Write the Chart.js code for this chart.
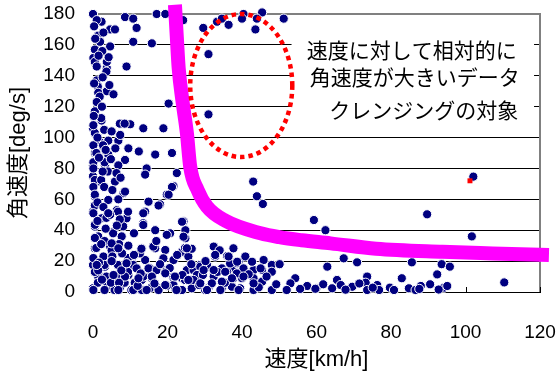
<!DOCTYPE html>
<html>
<head>
<meta charset="utf-8">
<script src="https://cdn.jsdelivr.net/npm/chart.js@4"></script>
<style>
  html, body { margin: 0; padding: 0; background: #fff; }
  canvas { display: block; }
</style>
</head>
<body>
<canvas id="c" width="558" height="374"></canvas>
<script>
// Measured samples: vehicle speed [km/h] and angular velocity [deg/s]
const speedKmh = [
  0,2.3,8.6,10.8,11.7,17.1,19.4,24.2,29.6,33.3,34.6,36.4,40.4,45.4,40,44,51.2,43.6,
  4.6,5.9,1.4,1.9,4.6,10.8,15.8,31,0.5,0.1,0.5,9,1,3.7,3.7,3.6,1,1.3,3.7,5.5,1.4,1.8,1,20.3,31,0.5,2.3,7.7,10,13.5,18.9,0,0.5,1.9,4.1,6.8,7.3,2.8,9.5,12.3,
  0.5,4.1,8.6,16.7,21.2,0,3.2,6.8,14.4,14,22.5,0,1.9,5.9,21.6,8.2,19.8,0.5,4.1,14.9,18,0,2.3,6.4,9,14,13.5,24.3,0.5,5.5,16.7,20.7,24.8,1.4,7.7,24.8,
  0.5,4.6,13.1,16.7,19.4,23.9,32.4,37.7,2.8,10.4,14,18.9,21.6,25.6,32.8,36,0,3.2,8.6,11.7,15.3,19.4,27,28.8,31,34.6,37.3,1.4,5.9,9.5,13.1,15.8,21.6,24.8,27.4,32.4,
  0,3.7,7.3,11.3,15.3,17.6,22,26.5,31,34.6,37.3,
  0.1,3.1,0.1,4,6.3,0.5,2.2,0.1,8.6,0.5,0.5,6.7,9.4,0.1,3.6,0.5,8.1,5.4,0.5,3.1,0.9,5,12.6,0.1,9.4,3.1,6.7,10.8,0.5,9.4,3.6,6.7,1.3,8.5,11.2,0.1,3.1,5.8,10.3,13.1,
  0.1,2.7,0.9,0.1,2.2,7.2,8.5,
  17.6,21.2,20.3,13.5,23.9,24.7,13,16.2,9,11.7,14.9,17.1,19.4,25.2,8.6,13.5,15.8,21.6,23.9,10.8,14.4,17.6,21.6,23.9,
  27,28.8,27.9,30.6,39.1,40.9,43.1,45.8,48,36,37.7,31.9,30.1,39.5,43.1,48,40,24.7,27,
  59.3,62.4,50.1,62.9,67.3,70.9,54.3,65.5,73.6,73.2,53,57.5,60,64.2,66.5,69.6,73.6,76.3,76.8,79.7,82.9,84.8,85.6,86.6,88,89.7,90.5,92.4,93.6,94.2,95.1,95.8,101.7,102.1,110.4,
  43,44,45.6,38.7,40.4,45.4,48,43.1,45.4,52,59.7,
  1.0,0.3,2.8,0.6,2.5,1.5,4.2,2.6,0.3,4.4,2.4,0.2,3.0,5.0,1.2,3.4,6.0,1.6,4.8,2.6,7.4,3.0,5.2,1.2,6.8,2.8,4.6,7.2,1.2,3.4,6.4,2.2,7.0,5.2,7.8,1.6,5.0,7.6,2.4,4.8,7.0,1.4,
  12.0,16.5,19.8,20.6,24.0,26.4,28.5,29.5,33.4,35.4,36.8,38.6,41.8,44.5,46.6,49.2,11.0,12.8,18.0,22.6,26.5,30.2,34.0,9.5,17.0,11.0,55.6,61.8,67.8,71.5,75.1,80.8,87.6,92.8,
  4.1,24.3,25.2,5,6.8,9,19.4,22,25.6,29.7,32.8,36.4,38.7,42.7,45,32.4,35.5,37.3,40.4,6.8,22.4,1,5.5,12.2,19.4,28.8,34.6,43.1,39.1,34.2,30.6,19.8,13.5
];
const angularVel = [
  180,175,178,177,171,180,180,176,171,175,177,173,180,181,177,177,177,170,
  170,170,166,162,159,162,161,154,157,151.5,149,146,146,145,149,142.7,137,133,130,128,129,126.5,123,122,115,117,111,109,108.6,106,106,106,103,97,98,98,101.7,94,93,91,
  90,89,85.5,89,90,82,82,82,80,76,77,75,71.5,71.5,68.6,64,63,62,59.6,58.5,56.8,52,47.7,53,47.7,52,44.5,45.7,42.4,39,40,38,40,36,36,34.8,
  28.3,29.4,28.3,28.3,27.2,26,29.4,28.3,23,21.8,20.7,21.8,20.7,23,23,23.3,17.5,16.4,17.5,15.3,15.3,14.2,14.2,17.5,16.4,15.3,14.2,10,10,11,7.8,8.9,8.9,7.8,8.9,10,
  2.4,3.4,3,2.4,2.4,2.4,2.4,2.4,2.4,2.4,3.4,
  84,84,80,78,77,72.5,72.5,68,65,63,56,52,52,51,48,43.5,42.5,38,35,33,28.5,27,25,22,22,17.5,17.5,17.5,13,13,10,10,6,6,6,1.3,1.3,1.3,1.3,1.3,
  95,95,90,108,112.6,109,109,
  56,68,63,51,45.5,28.5,28,29.4,18.6,15.3,15.3,14.2,13.1,14.2,10,10,10,10,8.9,1.3,1.3,1.3,4.5,1.3,
  14.2,16.4,11,17.5,19.6,23,14.2,20.7,17.5,13.1,8.9,5.6,1.3,2.4,1.3,1.3,8.9,7.8,7.8,
  46.6,40,18,16.4,21.8,19.2,8.9,7.8,10,6,5.6,3.9,2.4,2.4,4.5,3.4,1.3,4.5,1.3,2.8,8.9,2.4,19.2,1.3,3.9,50.3,5,11.4,18,2.8,3.9,16.4,36,74.7,6.2,
  71.5,62,57,18.6,15.3,14.2,13.1,8.9,6.7,1.3,2.1,
  176,172,168,164,156,153,152,139,135,134,120,114,105,104,100,92,93,87,86,78,74,68,66,58,60,55,50,47,46,41,43,31,31,23,25,19,20,14,8,6,6,14,
  4,5.5,4,15.5,11,18,4.5,11,13,6,18.5,12,11.5,3,10,5,24,12,18,24,28,20,27,30,33,38,2,5,1.5,5.5,2.8,1.3,2,1.6,
  51,35.8,28.3,31.5,28.3,18.6,12.1,10,7.8,14.2,24,23,19.6,19.6,15.3,14.2,13.1,8.9,10,1.3,1.3,17.5,11,8.9,4.5,5.6,6.7,5.6,1.3,1.3,1.3,37,43.4
];

// Threshold curve separating plausible turning rates from outliers
const thresholdSpeed  = [22.0, 22.5, 23.0, 24.0, 25.2, 26.1, 28.1, 30.6, 35.5, 45.0, 50.0, 56.0, 63.8, 76.0, 93.8, 107.3, 122.4];
const thresholdAngVel = [186, 165, 145, 124, 103, 81, 66, 55.3, 46.2, 38, 35.5, 33.5, 31.5, 28, 26, 25, 24];

// Single sample flagged in red
const flaggedSpeed  = [101.2];
const flaggedAngVel = [72];

const xTicks = [0, 20, 40, 60, 80, 100, 120];
const yTicks = [0, 20, 40, 60, 80, 100, 120, 140, 160, 180];

const noteLines = ['速度に対して相対的に', '角速度が大きいデータ', 'クレンジングの対象'];

const toPoints = (xs, ys) => xs.map((x, i) => ({ x, y: ys[i] }));

const FONT = "'Liberation Sans', 'Noto Sans CJK JP', sans-serif";

// Callout box, dotted outlier region and inner tick marks
const decorations = {
  id: 'decorations',
  beforeDatasetsDraw(chart) {
    const { ctx, chartArea: a, scales: { x, y } } = chart;
    ctx.save();
    // plot frame on the right
    ctx.strokeStyle = '#808080';
    ctx.lineWidth = 2;
    ctx.beginPath();
    ctx.moveTo(a.right, a.top - 1);
    ctx.lineTo(a.right, a.bottom);
    ctx.stroke();
    // inner tick marks on the speed axis
    ctx.strokeStyle = '#000';
    ctx.lineWidth = 1;
    xTicks.forEach(v => {
      const px = Math.round(x.getPixelForValue(v)) + 0.5;
      ctx.beginPath();
      ctx.moveTo(px, a.bottom);
      ctx.lineTo(px, a.bottom - 5);
      ctx.stroke();
    });
    // white callout box with note text
    const bx0 = x.getPixelForValue(53.3), bx1 = x.getPixelForValue(118.4);
    const by0 = y.getPixelForValue(171), by1 = y.getPixelForValue(106);
    ctx.fillStyle = '#fff';
    ctx.fillRect(bx0, by0, bx1 - bx0, by1 - by0);
    ctx.fillStyle = '#000';
    ctx.font = "21px 'Noto Sans CJK JP', sans-serif";
    ctx.textAlign = 'center';
    ctx.textBaseline = 'middle';
    const notePos = [[85.6, 156.7], [86.4, 139], [88.8, 117.6]];
    noteLines.forEach((t, i) => {
      ctx.fillText(t, x.getPixelForValue(notePos[i][0]), y.getPixelForValue(notePos[i][1]));
    });
    ctx.restore();
  },
  afterDatasetsDraw(chart) {
    const { ctx, scales: { x, y } } = chart;
    const cx = x.getPixelForValue(39.8), cy = y.getPixelForValue(133.7);
    const rx = x.getPixelForValue(39.8 + 13.7) - cx;
    const ry = cy - y.getPixelForValue(133.7 + 46.3);
    ctx.save();
    ctx.strokeStyle = '#FF0000';
    ctx.lineWidth = 4.5;
    ctx.setLineDash([4.5, 4]);
    ctx.beginPath();
    ctx.ellipse(cx, cy, rx, ry, 0, 0, Math.PI * 2);
    ctx.stroke();
    ctx.restore();
  }
};

new Chart(document.getElementById('c'), {
  type: 'scatter',
  data: {
    datasets: [
      {
        label: 'flagged',
        data: toPoints(flaggedSpeed, flaggedAngVel),
        pointStyle: 'rect',
        pointRadius: 3.5,
        backgroundColor: '#FF0000',
        borderWidth: 0,
        clip: false
      },
      {
        label: 'threshold',
        type: 'line',
        data: toPoints(thresholdSpeed, thresholdAngVel),
        borderColor: '#FF00FF',
        borderWidth: 14,
        pointRadius: 0,
        fill: false,
        cubicInterpolationMode: 'monotone',
        clip: false
      },
      {
        label: 'samples',
        data: toPoints(speedKmh, angularVel),
        pointRadius: 4.6,
        borderWidth: 1,
        borderColor: '#FFFFFF',
        backgroundColor: '#000080',
        clip: false
      }
    ]
  },
  options: {
    responsive: false,
    animation: false,
    devicePixelRatio: 1,
    events: [],
    layout: { padding: { top: 14, right: 18, left: 0, bottom: 0 } },
    plugins: { legend: { display: false }, tooltip: { enabled: false } },
    scales: {
      x: {
        type: 'linear',
        min: 0, max: 120,
        afterFit(s) { s.height = 82; s.paddingLeft = 0; s.paddingRight = 0; },
        afterBuildTicks(s) { s.ticks = xTicks.map(v => ({ value: v })); },
        ticks: { color: '#000', padding: 21, font: { family: FONT, size: 19 } },
        grid: { display: false },
        border: { display: true, color: '#000', width: 1 },
        title: {
          display: true, text: '速度[km/h]', color: '#000',
          font: { family: FONT, size: 22 }, padding: { top: 0, bottom: 1 }
        }
      },
      y: {
        type: 'linear',
        min: 0, max: 180,
        afterFit(s) { s.width = 93; s.paddingTop = 0; s.paddingBottom = 0; },
        afterBuildTicks(s) { s.ticks = yTicks.map(v => ({ value: v })); },
        ticks: { color: '#000', padding: 18, font: { family: FONT, size: 19 } },
        grid: {
          drawTicks: false,
          color: c => (c.tick && c.tick.value === 180 ? '#808080' : '#000'),
          lineWidth: c => (c.tick && c.tick.value === 180 ? 2 : 1)
        },
        border: { display: false },
        title: {
          display: true, text: '角速度[deg/s]', color: '#000',
          font: { family: FONT, size: 22 }, padding: { top: 6, bottom: 0 }
        }
      }
    }
  },
  plugins: [decorations]
});
</script>
</body>
</html>
